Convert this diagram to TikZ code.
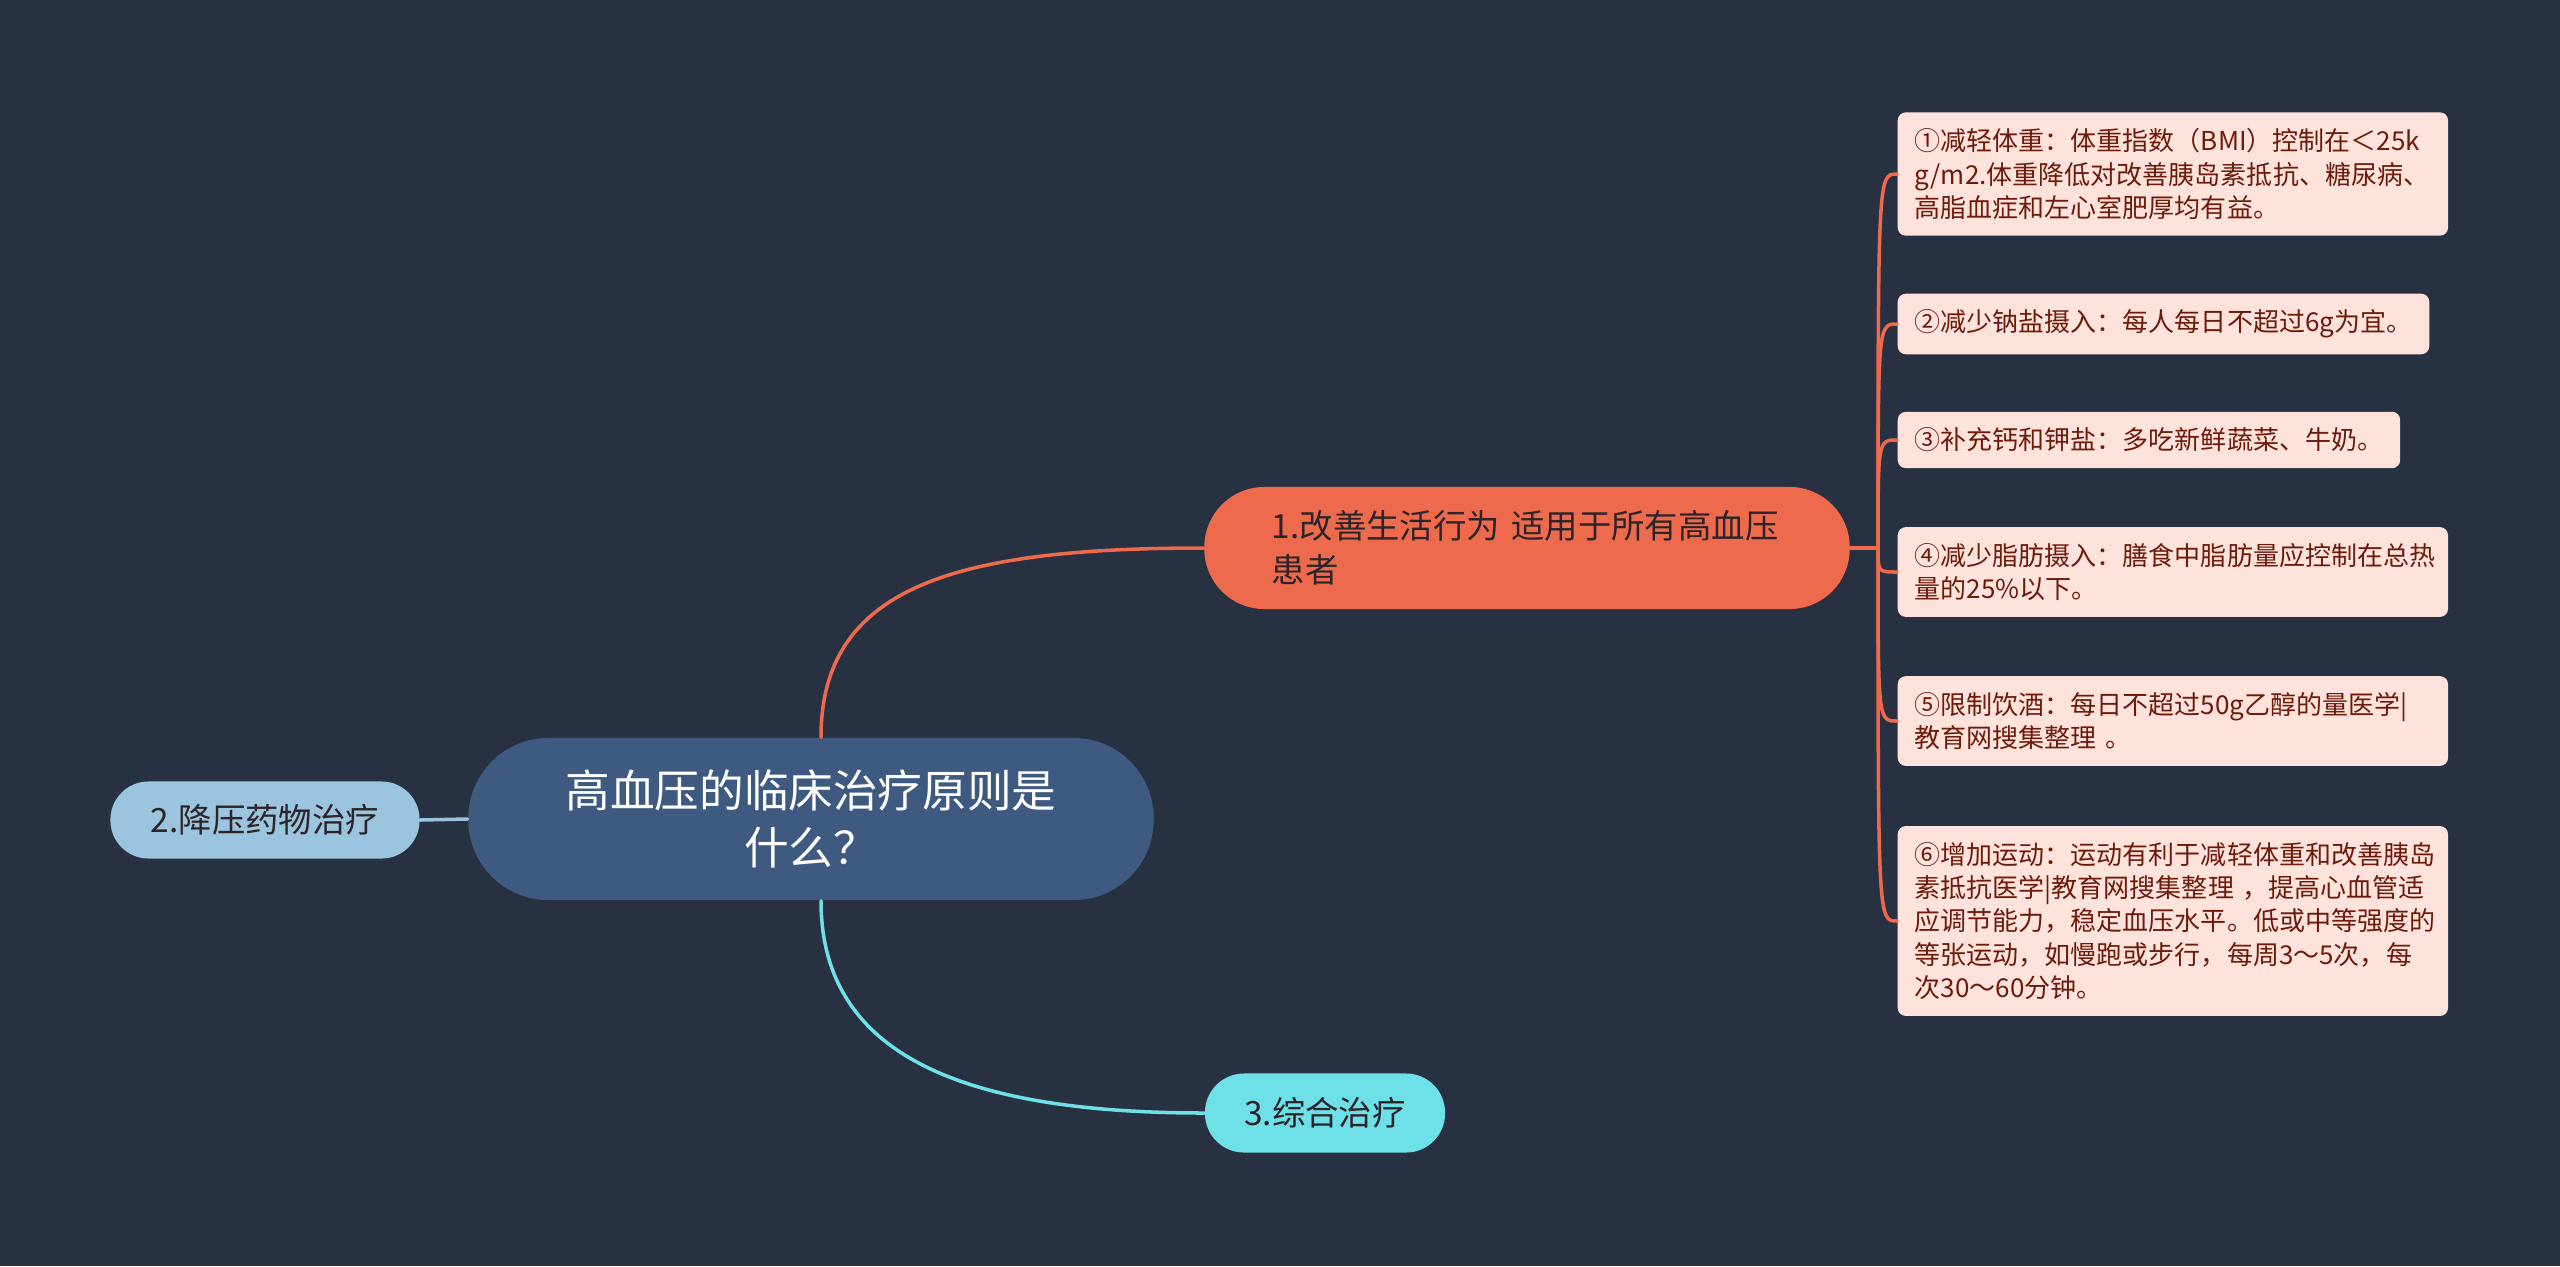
\documentclass[tikz,border=0pt]{standalone}
\usepackage{fontspec}
\setmainfont{Noto Sans CJK SC}
\usetikzlibrary{arrows.meta}

\definecolor{bgcol}{RGB}{40,49,65}
\definecolor{rootcol}{RGB}{62,90,128}
\definecolor{lifecol}{RGB}{238,106,77}
\definecolor{drugcol}{RGB}{155,196,223}
\definecolor{combcol}{RGB}{109,224,232}
\definecolor{notecol}{RGB}{253,227,220}
\definecolor{notetext}{RGB}{110,27,12}
\definecolor{darktext}{RGB}{44,36,40}

\begin{document}
\begin{tikzpicture}[line cap=round,line join=round,x=0.01cm,y=-0.01cm,
  rootnode/.style={fill=rootcol,text=white,rounded corners=0.8cm,minimum width=6.85cm,minimum height=1.62cm,
    align=center,font=\fontsize{12.7}{16.2}\selectfont},
  topic/.style={text=darktext,inner sep=0pt,font=\fontsize{9.5}{12.5}\selectfont},
  note/.style={fill=notecol,text=notetext,rounded corners=0.08cm,anchor=west,align=left,
    inner xsep=0.17cm,inner ysep=0.16cm,font=\fontsize{7.4}{9.5}\selectfont},
  wide/.style={text width=5.16cm},
  link/.style={line width=1pt}]
\fill[bgcol] (0,0) rectangle (2560,1266);
% main nodes
\node[rootnode] (root) at (811,819) {高血压的临床治疗原则是\\什么？};
\node[topic,fill=lifecol,rounded corners=0.6cm,minimum width=6.45cm,minimum height=1.22cm,text width=5.1cm,align=left] (life) at (1527,548) {1.改善生活行为 适用于所有高血压\\患者};
\node[topic,fill=drugcol,rounded corners=0.38cm,minimum width=3.09cm,minimum height=0.77cm] (drug) at (265,820) {2.降压药物治疗};
\node[topic,fill=combcol,rounded corners=0.39cm,minimum width=2.4cm,minimum height=0.79cm] (comb) at (1325,1113) {3.综合治疗};
% notes
\node[note,wide] (b1) at (1897,174) {①减轻体重：体重指数（BMI）控制在＜25k\\g/m2.体重降低对改善胰岛素抵抗、糖尿病、\\高脂血症和左心室肥厚均有益。};
\node[note] (b2) at (1897,324) {②减少钠盐摄入：每人每日不超过6g为宜。};
\node[note] (b3) at (1897,440) {③补充钙和钾盐：多吃新鲜蔬菜、牛奶。};
\node[note,wide] (b4) at (1897,572) {④减少脂肪摄入：膳食中脂肪量应控制在总热\\量的25\%以下。};
\node[note,wide] (b5) at (1897,721) {⑤限制饮酒：每日不超过50g乙醇的量医学|\\教育网搜集整理 。};
\node[note,wide] (b6) at (1897,921) {⑥增加运动：运动有利于减轻体重和改善胰岛\\素抵抗医学|教育网搜集整理 ，提高心血管适\\应调节能力，稳定血压水平。低或中等强度的\\等张运动，如慢跑或步行，每周3～5次，每\\次30～60分钟。};
% links
\coordinate (hub) at (1878,548);
\draw[link,lifecol] ([xshift=0.1cm]root.north) .. controls +(0,-150) and +(-250,0) .. (life.west);
\draw[link,combcol] ([xshift=0.1cm]root.south) .. controls +(0,150) and +(-250,0) .. (comb.west);
\draw[link,drugcol] (drug.east) -- (root.west);
\draw[link,lifecol] (life.east) -- (hub);
\foreach \b in {b1,b2,b3,b4,b5,b6}
  \draw[link,lifecol] (hub) .. controls (hub |- \b.west) .. (\b.west);
\end{tikzpicture}
\end{document}
